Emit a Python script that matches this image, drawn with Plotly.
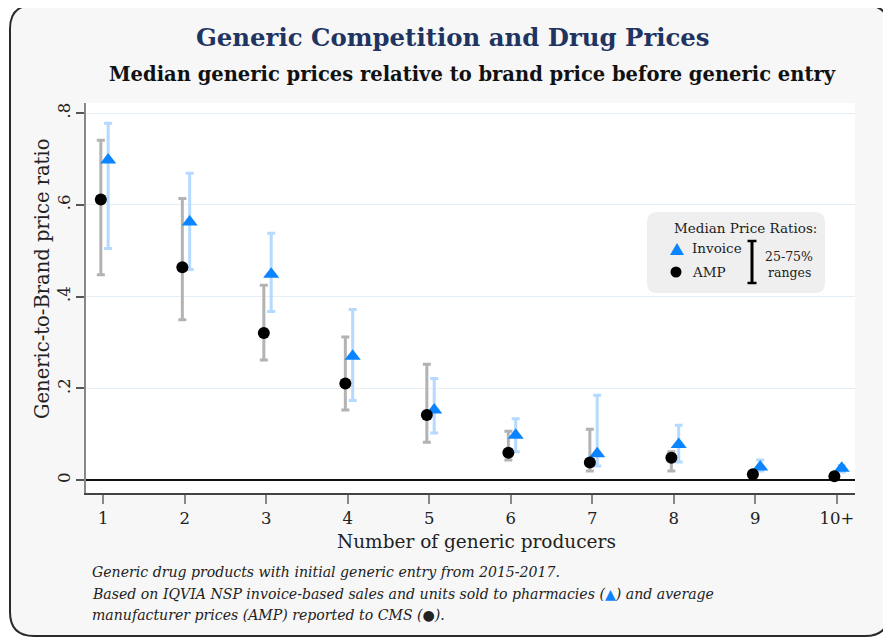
import plotly.graph_objects as go

# ---------------- data ----------------
producers = ["1", "2", "3", "4", "5", "6", "7", "8", "9", "10+"]
inv_med = [0.698, 0.563, 0.449, 0.270, 0.153, 0.098, 0.058, 0.078, 0.029, 0.026]
inv_p25 = [0.505, 0.459, 0.368, 0.174, 0.103, 0.062, 0.031, 0.040, 0.020, 0.018]
inv_p75 = [0.778, 0.669, 0.538, 0.372, 0.222, 0.134, 0.185, 0.120, 0.044, 0.032]
amp_med = [0.612, 0.464, 0.321, 0.211, 0.142, 0.060, 0.039, 0.049, 0.013, 0.009]
amp_p25 = [0.448, 0.350, 0.262, 0.153, 0.083, 0.044, 0.020, 0.020, 0.006, 0.004]
amp_p75 = [0.741, 0.614, 0.425, 0.312, 0.253, 0.107, 0.111, 0.062, 0.018, 0.013]
y_tickvals = [0, 0.2, 0.4, 0.6, 0.8]
y_ticktext = ["0", ".2", ".4", ".6", ".8"]

# ---------------- layout helpers ----------------
OFF = 8                      # page body margin (screen -> figure coords)
W, H = 883, 630
ML, MR, MT, MB = 78, 36, 95, 145
PW, PH = W - ML - MR, H - MT - MB

def px(x):                   # screen x -> paper
    return (x - OFF - ML) / PW

def py(y):                   # screen y -> paper
    return (H - MB - (y - OFF)) / PH

def pt(x, y):
    return f"{px(x):.5f},{py(y):.5f}"

def rounded_rect(l, t, r, b, rad):
    return (f"M{pt(l + rad, t)} L{pt(r - rad, t)} Q{pt(r, t)} {pt(r, t + rad)} "
            f"L{pt(r, b - rad)} Q{pt(r, b)} {pt(r - rad, b)} L{pt(l + rad, b)} "
            f"Q{pt(l, b)} {pt(l, b - rad)} L{pt(l, t + rad)} Q{pt(l, t)} {pt(l + rad, t)} Z")

xpos = list(range(1, len(producers) + 1))
AMP_OFF, INV_OFF = -0.03, 0.06
BLUE = "#0a84ff"
LIGHTBLUE = "#b5d9ff"
GREY = "#b3b3b3"
SERIF = "DejaVu Serif"

fig = go.Figure()

# error bars (drawn first, beneath all markers)
fig.add_trace(go.Scatter(
    x=[v + INV_OFF for v in xpos], y=inv_med, mode="markers",
    marker=dict(size=1, color="rgba(0,0,0,0)"),
    error_y=dict(type="data", symmetric=False,
                 array=[u - m for u, m in zip(inv_p75, inv_med)],
                 arrayminus=[m - l for m, l in zip(inv_med, inv_p25)],
                 color=LIGHTBLUE, thickness=3, width=4),
    hoverinfo="skip", showlegend=False))
fig.add_trace(go.Scatter(
    x=[v + AMP_OFF for v in xpos], y=amp_med, mode="markers",
    marker=dict(size=1, color="rgba(0,0,0,0)"),
    error_y=dict(type="data", symmetric=False,
                 array=[u - m for u, m in zip(amp_p75, amp_med)],
                 arrayminus=[m - l for m, l in zip(amp_med, amp_p25)],
                 color=GREY, thickness=3, width=4),
    hoverinfo="skip", showlegend=False))
# markers
fig.add_trace(go.Scatter(
    x=[v + INV_OFF for v in xpos], y=inv_med, mode="markers", name="Invoice",
    marker=dict(symbol="triangle-up", size=14, color=BLUE, line=dict(width=0)),
    showlegend=False))
fig.add_trace(go.Scatter(
    x=[v + AMP_OFF for v in xpos], y=amp_med, mode="markers", name="AMP",
    marker=dict(symbol="circle", size=12, color="black", line=dict(width=0)),
    showlegend=False))

shapes = [
    # outer rounded frame
    dict(type="path", xref="paper", yref="paper", layer="below",
         path=rounded_rect(10, 5, 889, 636, 24),
         fillcolor="#f7f7f7", line=dict(color="#2a2a2a", width=2)),
    # white plot region
    dict(type="rect", xref="paper", yref="paper", layer="below",
         x0=0, x1=1, y0=0, y1=1, fillcolor="white", line=dict(width=0)),
    # legend box
    dict(type="path", xref="paper", yref="paper", layer="above",
         path=rounded_rect(647, 212, 825, 293, 10),
         fillcolor="#efefef", line=dict(width=0)),
    # legend triangle
    dict(type="path", xref="paper", yref="paper", layer="above",
         path=f"M{pt(670, 255)} L{pt(684, 255)} L{pt(677, 243)} Z",
         fillcolor=BLUE, line=dict(width=0)),
    # legend circle
    dict(type="circle", xref="paper", yref="paper", layer="above",
         x0=px(670.5), x1=px(681.5), y0=py(277.5), y1=py(266.5),
         fillcolor="black", line=dict(width=0)),
    # range I-bar
    dict(type="line", xref="paper", yref="paper", layer="above",
         x0=px(752), x1=px(752), y0=py(241), y1=py(283),
         line=dict(color="black", width=3)),
    dict(type="line", xref="paper", yref="paper", layer="above",
         x0=px(747.5), x1=px(756.5), y0=py(241), y1=py(241),
         line=dict(color="black", width=2.5)),
    dict(type="line", xref="paper", yref="paper", layer="above",
         x0=px(747.5), x1=px(756.5), y0=py(283), y1=py(283),
         line=dict(color="black", width=2.5)),
]

def ann(text, x, y, size, color="#222", xanchor="center", family=SERIF, angle=0):
    return dict(text=text, x=px(x), y=py(y), xref="paper", yref="paper",
                xanchor=xanchor, yanchor="middle", showarrow=False,
                textangle=angle, font=dict(family=family, size=size, color=color))

annotations = [
    ann("<b>Generic Competition and Drug Prices</b>", 453, 38, 24.4, color="#1f3461"),
    ann("<b>Median generic prices relative to brand price before generic entry</b>",
        472, 74, 19.5, color="#111"),
    ann("Number of generic producers", 476, 541, 18.5),
    ann("Generic-to-Brand price ratio", 42, 279, 19.5, angle=-90),
    ann("Median Price Ratios:", 672, 228, 13.5, xanchor="left"),
    ann("Invoice", 690, 248, 13.5, xanchor="left"),
    ann("AMP", 690, 272, 13.5, xanchor="left"),
    ann("25-75%", 789, 256, 12.5),
    ann("ranges", 789, 272, 12.5),
    ann("<i>Generic drug products with initial generic entry from 2015-2017.</i>",
        90, 572, 14.1, xanchor="left"),
    ann("<i>Based on IQVIA NSP invoice-based sales and units sold to pharmacies "
        f"(<span style='color:{BLUE}'>▲</span>) and average</i>",
        90, 594, 14.1, xanchor="left"),
    ann("<i>manufacturer prices (AMP) reported to CMS (●).</i>",
        90, 615, 14.1, xanchor="left"),
]

fig.update_layout(
    width=W, height=H,
    margin=dict(l=ML, r=MR, t=MT, b=MB, autoexpand=False),
    paper_bgcolor="white", plot_bgcolor="white",
    showlegend=False,
    shapes=shapes, annotations=annotations,
    font=dict(family=SERIF, color="#222"),
    xaxis=dict(range=[0.788, 10.223], tickvals=xpos, ticktext=producers,
               showgrid=False, zeroline=False,
               showline=True, linecolor="#444", linewidth=1.5,
               ticks="outside", ticklen=9, tickwidth=1.5, tickcolor="#888",
               tickfont=dict(family=SERIF, size=16.5, color="#222")),
    yaxis=dict(range=[-0.0277, 0.822], tickvals=y_tickvals, ticktext=y_ticktext,
               tickangle=-90,
               showgrid=True, gridcolor="#e5eef4", gridwidth=1,
               zeroline=True, zerolinecolor="#111", zerolinewidth=2,
               showline=True, linecolor="#888", linewidth=1.5,
               ticks="outside", ticklen=8, tickwidth=1.5, tickcolor="#555",
               tickfont=dict(family=SERIF, size=16.5, color="#222")),
)

fig.write_html("out.html")
